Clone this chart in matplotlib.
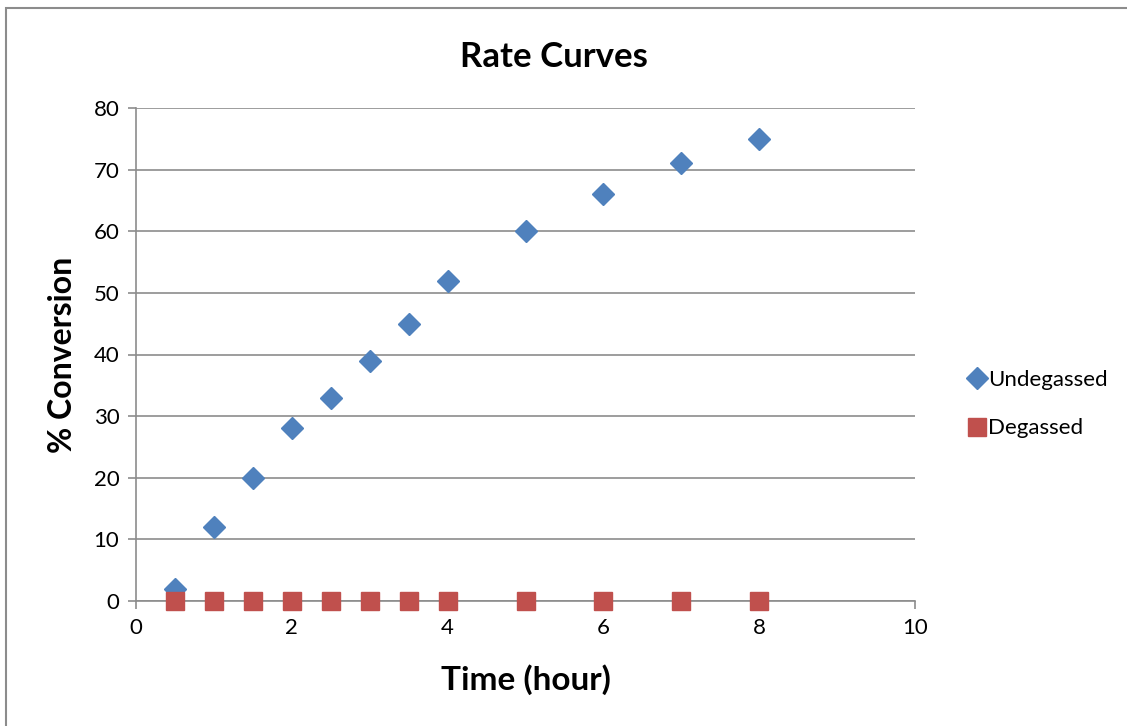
import matplotlib
matplotlib.use('Agg')
import matplotlib.pyplot as plt
from matplotlib.patches import Rectangle

plt.rcParams['font.family'] = ['Lato', 'DejaVu Sans']

time_h = [0.5, 1, 1.5, 2, 2.5, 3, 3.5, 4, 5, 6, 7, 8]
undegassed = [2, 12, 20, 28, 33, 39, 45, 52, 60, 66, 71, 75]
degassed = [0, 0, 0, 0, 0, 0, 0, 0, 0, 0, 0, 0]

W, H = 1127, 726
fig = plt.figure(figsize=(W / 100, H / 100), dpi=100)
ax = fig.add_axes([136/W, 1 - 601/H, (915-136)/W, (601-108)/H])

ax.plot(time_h, undegassed, linestyle='none', marker='D', markersize=11,
        color='#4F81BD', label='Undegassed', zorder=3, clip_on=False)
ax.plot(time_h, degassed, linestyle='none', marker='s', markersize=13,
        color='#C0504D', label='Degassed', zorder=4, clip_on=False)

ax.set_xlim(0, 10)
ax.set_ylim(0, 80)
ax.set_xticks(range(0, 11, 2))
ax.set_yticks(range(0, 81, 10))
ax.yaxis.grid(True, color='#8C8C8C', linewidth=1.2)
ax.set_axisbelow(True)
for s in ['top', 'right']:
    ax.spines[s].set_visible(False)
for s in ['left', 'bottom']:
    ax.spines[s].set_color('#8C8C8C')
    ax.spines[s].set_linewidth(1.2)
ax.tick_params(direction='out', length=6, width=1.2, color='#8C8C8C',
               labelsize=16, pad=6)

# titles placed in figure pixels
fig.text(554/W, 1 - 57/H, 'Rate Curves', fontsize=25, fontweight='bold',
         ha='center', va='center')
fig.text(526/W, 1 - 680/H, 'Time (hour)', fontsize=24, fontweight='bold',
         ha='center', va='center')
fig.text(62/W, 1 - 355/H, '% Conversion', fontsize=23, fontweight='bold',
         ha='center', va='center', rotation=90)

fig.legend(loc='center left', bbox_to_anchor=(966/W, 1 - 404/H),
           frameon=False, fontsize=16, handletextpad=0.0, labelspacing=1.3,
           handlelength=1.0, borderpad=0, borderaxespad=0)

fig.add_artist(Rectangle((6/W, -0.1), 1.2, 1 - 8/H + 0.1,
                         transform=fig.transFigure, fill=False,
                         edgecolor='#8C8C8C', linewidth=1.5, clip_on=False))

fig.savefig('out.png', dpi=100)
